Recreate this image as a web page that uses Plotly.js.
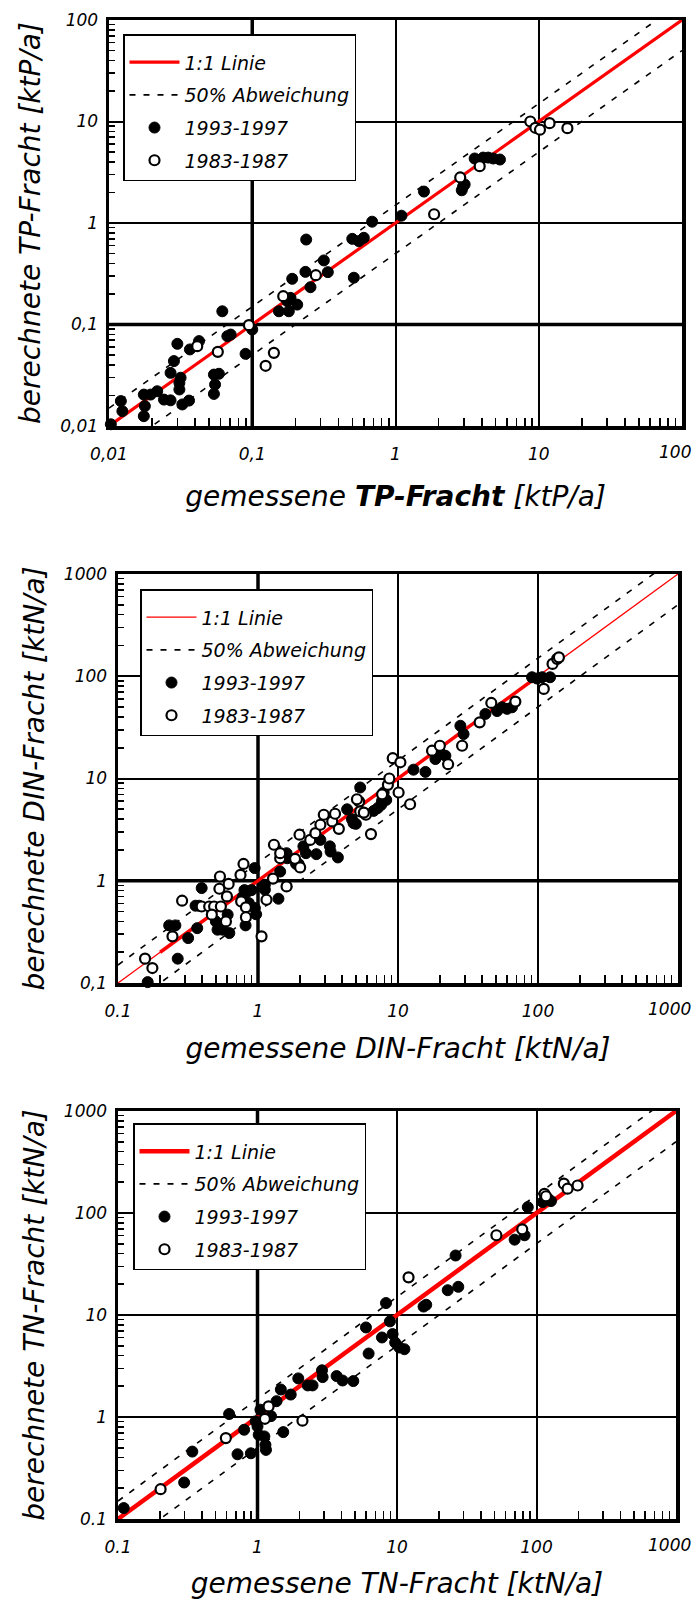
<!DOCTYPE html>
<html><head><meta charset="utf-8">
<script src="https://cdn.plot.ly/plotly-3.0.1.min.js"></script>
<style>html,body{margin:0;padding:0;background:#fff;overflow:hidden;width:694px;height:1600px}</style>
</head><body><div id="chart" style="width:694px;height:1600px"></div>
<script>
// ---------- Panel 1: TP ----------
const tpNewX = [0.0103,0.0121,0.0124,0.0175,0.0178,0.0175,0.0195,0.0217,0.0242,0.0269,0.0269,0.0284,0.030,0.0316,0.031,0.031,0.0325,0.0362,0.0367,0.0425,0.054,0.0585,0.055,0.054,0.0618,0.067,0.0707,0.0898,0.1,0.1535,0.18,0.1755,0.185,0.206,0.19,0.235,0.238,0.255,0.316,0.337,0.512,0.499,0.555,0.601,0.687,1.10,1.58,2.96,3.04,2.9,3.57,4.09,4.44,4.81,5.36];
const tpNewY = [0.0104,0.0176,0.014,0.0204,0.0157,0.0125,0.0204,0.022,0.0182,0.0179,0.0334,0.0436,0.0645,0.0299,0.0266,0.0229,0.0163,0.0178,0.0568,0.0686,0.0321,0.0327,0.0256,0.0207,0.135,0.0767,0.0796,0.0514,0.0893,0.135,0.135,0.17,0.183,0.157,0.282,0.33,0.687,0.233,0.428,0.328,0.289,0.698,0.663,0.715,1.03,1.18,2.04,2.28,2.4,2.1,4.32,4.41,4.41,4.32,4.22];
const tpOldX = [0.0413,0.0575,0.0948,0.124,0.1416,0.1645,0.278,1.86,2.83,3.87,8.73,9.47,10.2,11.9,15.85];
const tpOldY = [0.0612,0.0538,0.0985,0.0392,0.0526,0.19,0.306,1.22,2.81,3.63,10,8.67,8.3,9.63,8.6];

// ---------- Panel 2: DIN ----------
const dinNewX = [0.163,0.267,0.232,0.257,0.317,0.368,0.358,0.38,0.396,0.5,0.514,0.558,0.624,0.607,0.8,0.85,0.9,0.78,0.86,0.815,0.946,0.95,0.97,1.12,1.12,1.40,1.6,1.62,1.44,1.87,1.95,2.11,2.2,2.61,2.79,3.26,3.3,3.72,5.37,4.81,5.0,7.16,7.59,8.24,7.9,7.69,6.7,4.69,4.33,12.9,15.7,18.5,20.4,21.8,27.9,29.4,42.1,51,55.3,60.1,65.2,90.6,98.4,107,122];
const dinNewY = [0.102,0.173,0.366,0.366,0.275,0.344,0.57,0.57,0.848,0.40,0.332,0.332,0.308,0.466,0.81,0.79,0.81,0.70,0.605,0.366,1.33,0.54,0.47,0.914,0.817,0.667,1.86,1.66,1.23,1.46,1.46,2.17,1.86,1.82,2.51,2.17,1.93,1.69,8.17,3.66,3.6,5.13,5.53,6.17,7.3,6.04,4.82,3.99,5.0,12.2,11.6,15.5,17.4,16.7,32.8,27.2,42.8,45.7,49.7,48,49.7,97.8,95,97.8,97.8];
const dinOldX = [0.156,0.176,0.245,0.287,0.396,0.448,0.486,0.468,0.535,0.53,0.617,0.6,0.543,0.59,0.75,0.788,0.758,0.82,0.82,1.06,1.15,1.28,1.60,1.30,1.44,1.44,1.84,2.0,1.98,2.36,2.57,2.79,2.95,3.39,3.55,3.78,5.28,5.37,6.41,5.9,8.47,9.17,10.4,8.67,10.1,12.2,17.5,19.9,22.8,28.7,38.3,46.4,68.9,110,127,137,141,5.09,5.7,7.7];
const dinOldY = [0.173,0.140,0.286,0.638,0.56,0.56,0.56,0.466,1.10,0.835,0.93,0.703,0.56,0.40,1.14,1.46,0.628,0.55,0.44,0.286,0.652,1.05,0.88,2.25,1.66,1.86,1.64,1.35,2.82,2.51,2.92,3.53,4.42,3.8,4.52,3.22,5.96,4.76,2.86,4.42,8.67,15.8,14.4,10,7.3,5.6,18.7,20.9,13.8,20.9,35.4,54.8,56.5,75.2,132,148,153,6.27,4.64,7.0];

// ---------- Panel 3: TN ----------
const tnNewX = [0.110,0.298,0.341,0.626,0.719,0.802,0.896,0.97,1.0,1.02,1.05,1.12,1.15,1.14,1.25,1.37,1.53,1.47,1.73,1.96,2.29,2.48,2.9,2.93,3.69,4.07,4.86,6.26,5.99,7.8,9.3,9.7,10.4,11.3,8.9,8.34,26.3,23.1,27.5,15.5,16.2,69.7,82.1,86.6,111,127,120];
const tnNewY = [0.128,0.228,0.458,1.07,0.431,0.75,0.441,0.906,0.809,0.67,1.18,0.645,0.476,0.533,1.02,1.43,0.711,1.86,1.66,2.39,2.04,2.04,2.87,2.46,2.52,2.28,2.25,4.19,7.55,6.02,6.5,5.37,4.8,4.62,8.66,13.1,38.3,17.5,18.9,12.1,12.6,54.8,60.5,114,128,131,140];
const tnOldX = [0.202,0.593,1.13,1.2,2.1,12.1,51.6,79,114,117,157,167,197];
const tnOldY = [0.196,0.621,0.96,1.27,0.92,23.4,60.5,69.2,154,146,194,173,186];

// ---------- labels ----------
const legendLabels = ['1:1 Linie','50% Abweichung','1993-1997','1983-1987'];
const tpTicksX = ['0,01','0,1','1','10','100'];
const tpTicksY = ['0,01','0,1','1','10','100'];
const dinTicksX = ['0.1','1','10','100','1000'];
const dinTicksY = ['0,1','1','10','100','1000'];
const tnTicksX = ['0.1','1','10','100','1000'];
const tnTicksY = ['0.1','1','10','100','1000'];
const tpRange = [0.01,100];
const nRange = [0.1,1000];
const devUpper = 1.5, devLower = 0.5;

const FONT = 'DejaVu Sans, Liberation Sans, Arial, sans-serif';
const TICKFONT = {family:FONT,size:17,color:'#000',style:'italic'};
const traces = [];

function decades(r){const v=[];for(let e=Math.round(Math.log10(r[0]));e<=Math.round(Math.log10(r[1]));e++)v.push(Math.pow(10,e));return v;}
function minors(r){const v=[];for(let e=Math.round(Math.log10(r[0]));e<Math.round(Math.log10(r[1]));e++)for(let k=2;k<=9;k++)v.push(k*Math.pow(10,e));return v;}

function addPanel(n, range, nx, ny, ox, oy, redW, thick){
  const xa = n===1?'x':'x'+n, ya = n===1?'y':'y'+n, lg = n===1?'legend':'legend'+n;
  const lx=[range[0],range[1]];
  traces.push({x:lx,y:lx,xaxis:xa,yaxis:ya,legend:lg,mode:'lines',name:legendLabels[0],legendgroup:'a'+n,
    line:{color:'#ff0000',width:redW},hoverinfo:'skip'});
  if(thick){
    traces.push({x:thick,y:thick,xaxis:xa,yaxis:ya,legend:lg,mode:'lines',showlegend:false,legendgroup:'a'+n,
      line:{color:'#ff0000',width:3.5},hoverinfo:'skip'});
  }
  traces.push({x:lx.concat([null],lx),y:lx.map(v=>v*devUpper).concat([null],lx.map(v=>v*devLower)),
    xaxis:xa,yaxis:ya,legend:lg,mode:'lines',name:legendLabels[1],legendgroup:'b'+n,connectgaps:false,
    line:{color:'#000',width:1.6,dash:'6px,8px'},hoverinfo:'skip'});
  traces.push({x:nx,y:ny,xaxis:xa,yaxis:ya,legend:lg,mode:'markers',name:legendLabels[2],legendgroup:'c'+n,cliponaxis:false,
    marker:{symbol:'circle',size:11,color:'#000',line:{color:'#000',width:1}}});
  traces.push({x:ox,y:oy,xaxis:xa,yaxis:ya,legend:lg,mode:'markers',name:legendLabels[3],legendgroup:'d'+n,cliponaxis:false,
    marker:{symbol:'circle',size:10,color:'#fff',line:{color:'#000',width:2.2}}});
}
addPanel(1,tpRange,tpNewX,tpNewY,tpOldX,tpOldY,3.2,null);
addPanel(2,nRange,dinNewX,dinNewY,dinOldX,dinOldY,1.3,[0.2,100]);
addPanel(3,nRange,tnNewX,tnNewY,tnOldX,tnOldY,4.5,null);

const W=694,H=1600;
function xd(a,b){return [a/W,b/W];}
function yd(t,b){return [1-b/H,1-t/H];}

function axis(range,ticktext,dom,anchor,isX,title,standoff){
  const tv=decades(range);
  // the right-most x label sits at the page edge; it is drawn as a right-aligned annotation instead
  const tt = isX ? ticktext.slice(0,-1).concat(['']) : ticktext;
  return {type:'log',range:[Math.log10(range[0]),Math.log10(range[1])],domain:dom,anchor:anchor,
    tickmode:'array',tickvals:tv,ticktext:tt,ticks:'',
    tickfont:TICKFONT,
    ticklabelstandoff:isX?10:4,
    showgrid:true,gridcolor:'#000',gridwidth:2,
    showline:true,linecolor:'#000',linewidth:3.5,mirror:true,zeroline:false,
    minor:{tickmode:'array',tickvals:minors(range),ticks:'inside',ticklen:isX?8:6,tickwidth:1.6,tickcolor:'#000',showgrid:false},
    title:{text:title,font:{family:FONT,size:28,color:'#000',style:'italic'},standoff:standoff},
    automargin:false,fixedrange:true};
}

function legendCfg(x,y){
  return {x:x,y:y,xanchor:'left',yanchor:'top',xref:'paper',yref:'paper',
    bgcolor:'#fff',bordercolor:'#000',borderwidth:1.5,
    font:{family:FONT,size:19,color:'#000',style:'italic'},
    title:{text:'\u00a0',font:{family:FONT,size:6}},
    itemwidth:50,tracegroupgap:5,traceorder:'grouped',itemclick:false,itemdoubleclick:false};
}

function thickLine(xref,yref,val,vertical){
  return vertical?
   {type:'line',xref:xref,yref:yref+' domain',x0:val,x1:val,y0:0,y1:1,line:{color:'#000',width:3.5},layer:'below'}:
   {type:'line',xref:xref+' domain',yref:yref,x0:0,x1:1,y0:val,y1:val,line:{color:'#000',width:3.5},layer:'below'};
}
function lastLabel(text,axisBottomPx){
  return {xref:'paper',yref:'paper',x:693/W,y:1-(axisBottomPx+26)/H,xanchor:'right',yanchor:'middle',
    text:text,showarrow:false,font:TICKFONT};
}

const layout = {
  width:W,height:H,margin:{l:0,r:0,t:0,b:0},paper_bgcolor:'#fff',plot_bgcolor:'#fff',
  font:{family:FONT,color:'#000'},
  xaxis: axis(tpRange,tpTicksX,xd(109,682),'y',true,'gemessene <b>TP-Fracht</b> [ktP/a]',24),
  yaxis: axis(tpRange,tpTicksY,yd(20,426),'x',false,'berechnete TP-Fracht [ktP/a]',12),
  xaxis2: axis(nRange,dinTicksX,xd(118,678),'y2',true,'gemessene DIN-Fracht [ktN/a]',19),
  yaxis2: axis(nRange,dinTicksY,yd(574,983),'x2',false,'berechnete DIN-Fracht [ktN/a]',12),
  xaxis3: axis(nRange,tnTicksX,xd(118,676),'y3',true,'gemessene TN-Fracht [ktN/a]',25),
  yaxis3: axis(nRange,tnTicksY,yd(1111,1519),'x3',false,'berechnete TN-Fracht [ktN/a]',12),
  legend: legendCfg(123/W,1-34/H),
  legend2: legendCfg(140/W,1-589/H),
  legend3: legendCfg(133/W,1-1123/H),
  annotations:[lastLabel(tpTicksX[tpTicksX.length-1],426),
               lastLabel(dinTicksX[dinTicksX.length-1],983),
               lastLabel(tnTicksX[tnTicksX.length-1],1519)],
  shapes:[thickLine('x','y',0.1,true),thickLine('x','y',0.1,false),
          thickLine('x2','y2',1,true),thickLine('x2','y2',1,false),
          thickLine('x3','y3',1,true)],
  showlegend:true
};
Plotly.newPlot('chart',traces,layout,{staticPlot:true,displayModeBar:false});
</script></body></html>
